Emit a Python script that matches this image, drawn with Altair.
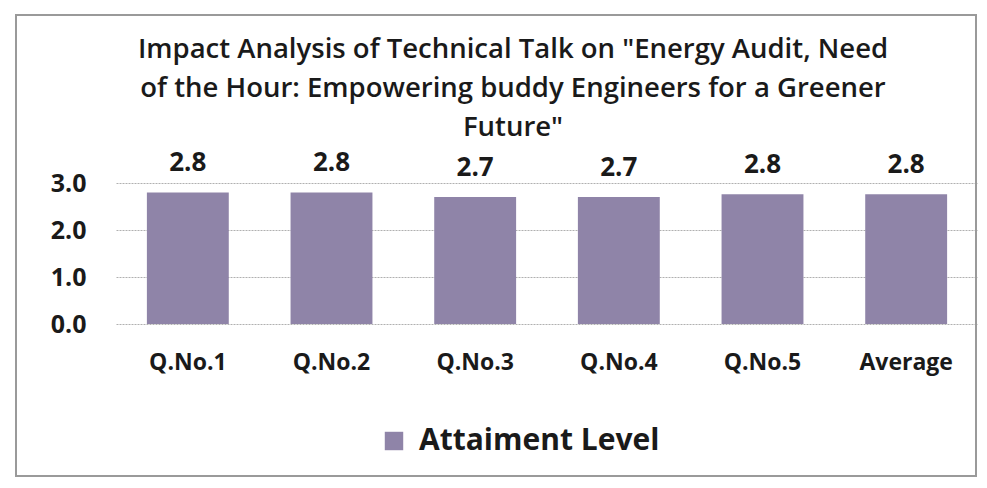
import altair as alt
import pandas as pd

categories = ["Q.No.1", "Q.No.2", "Q.No.3", "Q.No.4", "Q.No.5", "Average"]
values = [2.8, 2.8, 2.7, 2.7, 2.76, 2.76]
series_name = "Attaiment Level"
title_lines = [
    'Impact Analysis of Technical Talk on "Energy Audit, Need',
    'of the Hour: Empowering buddy Engineers for a Greener',
    'Future"',
]

df = pd.DataFrame({"cat": categories, "val": values, "series": series_name})

FONT = "Open Sans"
BAR = "#8f84a8"

x_enc = alt.X("cat:N", sort=categories, title=None,
              scale=alt.Scale(paddingInner=0.43, paddingOuter=0.215),
              axis=alt.Axis(labelFont=FONT, labelFontSize=23, labelFontWeight="bold",
                            labelColor="#1a1a1a", labelAngle=0, labelPadding=27,
                            ticks=False, domain=False))
y_enc = alt.Y("val:Q", title=None,
              scale=alt.Scale(domain=[0, 3]),
              axis=alt.Axis(values=[0, 1, 2, 3], format=".1f", labelFont=FONT,
                            labelFontSize=25, labelFontWeight="bold", labelColor="#1a1a1a",
                            labelPadding=30, ticks=False, domain=False,
                            gridColor="#b0b0b0", gridDash=[2, 1], gridWidth=1))

bars = alt.Chart(df).mark_bar(color=BAR).encode(
    x=x_enc, y=y_enc,
    color=alt.Color("series:N", scale=alt.Scale(range=[BAR]), title=None,
                    legend=alt.Legend(orient="none", legendX=263, legendY=243,
                                      symbolType="square", symbolSize=340,
                                      labelFont=FONT, labelFontSize=30,
                                      labelFontWeight="bold", labelColor="#1a1a1a",
                                      labelOffset=10, labelLimit=0)),
)

labels = alt.Chart(df).mark_text(dy=-29, font=FONT, fontSize=26, fontWeight="bold",
                                 color="#1a1a1a").encode(
    x=alt.X("cat:N", sort=categories),
    y="val:Q",
    text=alt.Text("val:Q", format=".1f"),
)

frame = alt.Chart(df).mark_rect(fill=None, stroke="#9a9a9a", strokeWidth=1.5).encode(
    x=alt.value(-100), x2=alt.value(860), y=alt.value(-168), y2=alt.value(293)
)

chart = alt.layer(frame, bars, labels).properties(
    width=862, height=141,
    autosize=alt.AutoSizeParams(type="none"),
    padding={"left": 108, "top": 175, "right": 0, "bottom": 155},
    title=alt.TitleParams(text=title_lines, font=FONT, fontSize=27.5, fontWeight=600,
                          color="#1a1a1a", anchor="middle", lineHeight=39,
                          offset=-127, dx=-34),
    background="white",
).configure_view(stroke=None)

chart.save("out.html", embed_options={"renderer": "svg", "actions": False})
